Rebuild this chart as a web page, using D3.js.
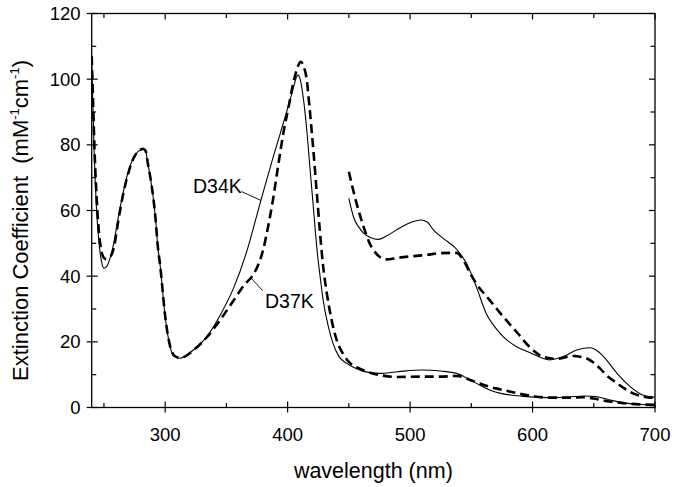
<!DOCTYPE html>
<html><head><meta charset="utf-8">
<script src="https://cdn.jsdelivr.net/npm/d3@7"></script>
<style>
html,body{margin:0;padding:0;background:#fff;}
text{font-family:"Liberation Sans",Arial,Helvetica,sans-serif;fill:#000;}
</style></head>
<body><svg id="chart" width="674" height="487"></svg>
<script>
// ---- data ----
const xMajorTicks = [300, 400, 500, 600, 700];
const xMinorTicks = [250, 350, 450, 550, 650];
const yMajorTicks = [0, 20, 40, 60, 80, 100, 120];
const yMinorTicks = [10, 30, 50, 70, 90, 110];

const d34kWl = [240,241,242,244,246,248,250,252,255,258,262,266,270,274,278,282,284,286,289,292,294,296,300,304,308,312,316,323,334,345,356,367,377,383,388,394,399,402,405,407,408.5,410,413,416,418,421,424,427,429,433,437,442,448,455,462,475,490,510,525,538,549,557,565,574,582,595,614,630,642,652,663,675,690,700];
const d34kVal = [105,92,78,60,50,44.5,42.4,42.8,45.5,50,58.5,66,72,76,78,78.6,78,74,67.3,58,49,42.9,27.7,18.5,15.5,15.0,15.6,17.5,21.6,28.2,36.5,48,61.5,69.5,76,83.5,89.8,93.7,97.8,100.4,101.3,100.3,93.7,83,74,61,48,38.5,32.7,25,19.6,15.5,13.5,12,11,10.4,10.9,11.4,11.1,10.4,8.4,6.8,5.3,4.3,3.8,3.3,3.0,3.2,3.5,3.3,2.3,1.4,0.9,0.6];

const d37kWl = [240,241,242,244,246,248,250,252,254,256,258,262,266,270,274,278,282,284,286,289,292,294,296,300,304,308,312,316,323,334,345,356,365,371,376,380,384,388,392,396.5,401,404.6,408,410.7,413,415.6,418,421,424,426.5,429,432,436,440,445,451,458,465,475,490,510,525,538,549,557,565,574,582,595,614,630,642,652,663,675,690,700];
const d37kVal = [107,95,82,64,53,47.5,45.6,45.2,45.8,46.4,48.5,57.5,65.5,71.5,75.8,78,78.8,78.2,74,67.5,58,49,43,27.8,18.7,15.6,15.1,15.5,17.4,21.4,26.7,32.7,37.5,40,43.5,48,55,63.2,73,83.5,92,98.8,103.5,105.3,104,99.8,91,78.4,64.5,53,43,34.8,26.5,20.6,16.5,13.5,12,10.9,9.9,9.3,9.4,9.4,9.6,8.4,7.3,6.3,5.5,4.8,3.8,3.0,3.0,3.1,2.6,1.8,1.3,0.9,0.8];

const d34kZoomWl = [450,452,454,458,462,468,474,481,489,500,509,514,519,527,538,546,554,562,571,576,587,598,611,614,625,636,647,652,658,669,680,690,700];
const d34kZoomVal = [63.7,60.5,57.8,55,53.1,51.7,51.2,52.3,54.1,56.3,57.1,56.5,54.1,51.5,48.2,43.9,36.9,28.8,23.7,21.6,18.5,16.7,14.7,14.5,15.5,17.5,18.2,17.5,15.5,10.4,6.3,3.8,3.1];

const d37kZoomWl = [450,453,456,462,467,471,475,481,490,503,514,524,538,543.5,549,554,565,576,587,598,609,620,627,633,640,644,650,655,661,669,675,682,690,696,700];
const d37kZoomVal = [71.8,67,62.6,55.1,50,47.5,45.9,45.1,45.6,46.1,46.5,47.0,47.1,44.9,40.9,37.8,32.7,27.7,23,18.3,15.4,14.8,15.3,15.7,15.4,15.0,13.6,11.9,9.6,7.4,5.8,4.3,3.4,3.0,3.0];

const labels = [
  {text:"D34K", x:193, y:192.5, lx1:241.5, ly1:191.5, lx2:261, ly2:200.5},
  {text:"D37K", x:265, y:307.5, lx1:262.5, ly1:290.5, lx2:251.5, ly2:278.5}
];

// ---- layout ----
const svg = d3.select("#chart");
const L = 91.7, R = 655, T = 13.5, B = 407.5;
const x = d3.scaleLinear().domain([240, 700]).range([L, R]);
const y = d3.scaleLinear().domain([0, 120]).range([B, T]);

svg.append("defs").append("clipPath").attr("id","clip")
  .append("rect").attr("x",L).attr("y",T).attr("width",R-L).attr("height",B-T);

const line = d3.line().x(d=>x(d[0])).y(d=>y(d[1])).curve(d3.curveMonotoneX);
const zip = (a,b)=>a.map((v,i)=>[v,b[i]]);

const g = svg.append("g").attr("clip-path","url(#clip)");
g.append("path").datum(zip(d34kWl,d34kVal)).attr("d",line)
  .attr("fill","none").attr("stroke","#000").attr("stroke-width",1.1);
g.append("path").datum(zip(d34kZoomWl,d34kZoomVal)).attr("d",line)
  .attr("fill","none").attr("stroke","#000").attr("stroke-width",1.1);
g.append("path").datum(zip(d37kWl,d37kVal)).attr("d",line)
  .attr("fill","none").attr("stroke","#000").attr("stroke-width",2.6)
  .attr("stroke-dasharray","9,5");
g.append("path").datum(zip(d37kZoomWl,d37kZoomVal)).attr("d",line)
  .attr("fill","none").attr("stroke","#000").attr("stroke-width",2.6)
  .attr("stroke-dasharray","9,5");

// frame
svg.append("rect").attr("x",L).attr("y",T).attr("width",R-L).attr("height",B-T)
  .attr("fill","none").attr("stroke","#000").attr("stroke-width",1.3);

const tk = svg.append("g").attr("stroke","#000").attr("stroke-width",1.2);
xMajorTicks.forEach(v=>{
  tk.append("line").attr("x1",x(v)).attr("x2",x(v)).attr("y1",B+5).attr("y2",B-6);
  tk.append("line").attr("x1",x(v)).attr("x2",x(v)).attr("y1",T).attr("y2",T+6);
});
xMinorTicks.forEach(v=>{
  tk.append("line").attr("x1",x(v)).attr("x2",x(v)).attr("y1",B).attr("y2",B-4.5);
  tk.append("line").attr("x1",x(v)).attr("x2",x(v)).attr("y1",T).attr("y2",T+4.5);
});
yMajorTicks.forEach(v=>{
  tk.append("line").attr("x1",L-5).attr("x2",L+6).attr("y1",y(v)).attr("y2",y(v));
  tk.append("line").attr("x1",R).attr("x2",R-6).attr("y1",y(v)).attr("y2",y(v));
});
yMinorTicks.forEach(v=>{
  tk.append("line").attr("x1",L).attr("x2",L+4.5).attr("y1",y(v)).attr("y2",y(v));
  tk.append("line").attr("x1",R).attr("x2",R-4.5).attr("y1",y(v)).attr("y2",y(v));
});

// tick labels
svg.append("g").selectAll("text").data(xMajorTicks).join("text")
  .attr("x",d=>x(d)).attr("y",441).attr("text-anchor","middle")
  .attr("font-size","18.5px").text(d=>d);
svg.append("g").selectAll("text").data(yMajorTicks).join("text")
  .attr("x",80.5).attr("y",d=>y(d)+6.6).attr("text-anchor","end")
  .attr("font-size","18.5px").text(d=>d);

// axis titles
svg.append("text").attr("x",(L+R)/2).attr("y",478).attr("text-anchor","middle")
  .attr("font-size","21.5px").text("wavelength (nm)");
const yt = svg.append("text").attr("transform",`translate(28,${(T+B)/2+10}) rotate(-90)`)
  .attr("text-anchor","middle").attr("font-size","22px");
yt.append("tspan").text("Extinction Coefficient\u00a0\u00a0(mM");
yt.append("tspan").attr("font-size","13px").attr("dy","-9").text("-1");
yt.append("tspan").attr("dy","9").text("cm");
yt.append("tspan").attr("font-size","13px").attr("dy","-9").text("-1");
yt.append("tspan").attr("dy","9").text(")");

// annotations
labels.forEach(l=>{
  svg.append("text").attr("x",l.x).attr("y",l.y).attr("font-size","19.5px").text(l.text);
  svg.append("line").attr("x1",l.lx1).attr("y1",l.ly1).attr("x2",l.lx2).attr("y2",l.ly2)
    .attr("stroke","#000").attr("stroke-width",0.9);
});
</script></body></html>
